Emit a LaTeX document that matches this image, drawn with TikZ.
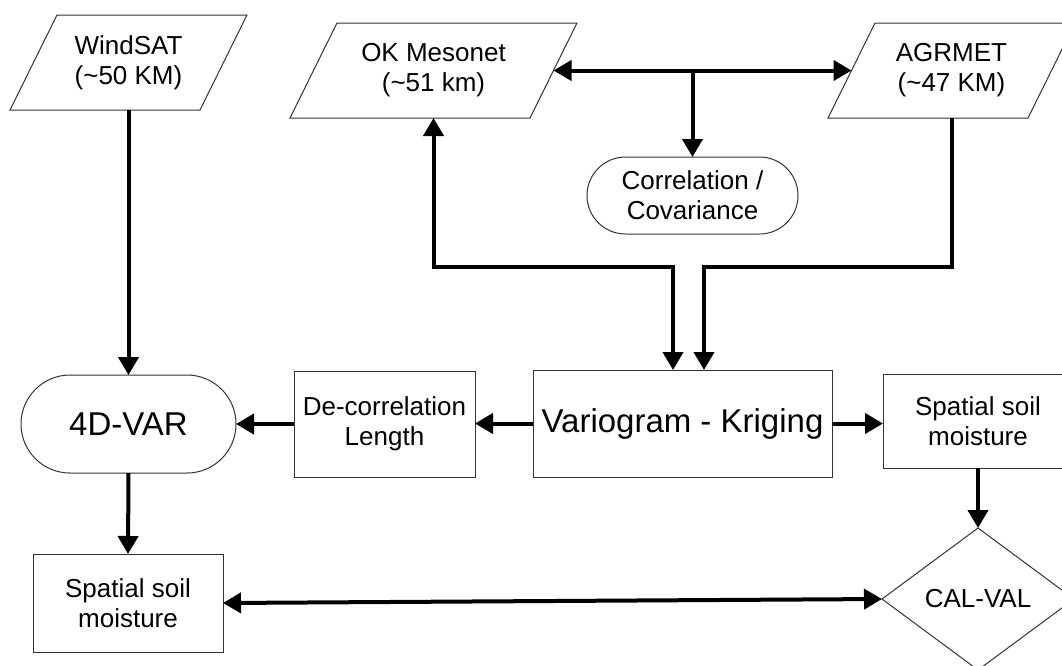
\documentclass[tikz,border=0pt]{standalone}
\usepackage{fontspec}
\setmainfont{Liberation Sans}
\usetikzlibrary{arrows.meta,shapes.geometric,calc}
\colorlet{bordergray}{black!80}
\newcommand\drawpara[2]{\draw[border] ($(#1.north west)+(#2,0)$) -- (#1.north east) -- ($(#1.south east)+(-#2,0)$) -- (#1.south west) -- cycle;}
\begin{document}
\begin{tikzpicture}[x=1pt,y=-1pt,
  border/.style={draw=bordergray, line width=1pt},
  txt/.style={inner sep=0pt, outer sep=0pt, align=center, font=\fontsize{26}{30}\selectfont},
  bigtxt/.style={txt, font=\fontsize{33}{38}\selectfont},
  boxnode/.style={txt, border, rectangle},
  conn/.style={line width=4pt, draw=black},
  tip/.tip={Triangle[length=18pt,width=20pt]},
]
\useasboundingbox (0,0) rectangle (1062,665);
\clip (0,0) rectangle (1062,665);
\fill[white] (0,0) rectangle (1062,665);

% parallelogram inputs
\node[txt, minimum width=237pt, minimum height=95pt] (ws) at (128.5,62.5) {WindSAT\\(\textasciitilde50 KM)};
\drawpara{ws}{47}
\node[txt, minimum width=287pt, minimum height=95pt] (mes) at (433.5,70.5) {OK Mesonet\\(\textasciitilde51 km)};
\drawpara{mes}{47}
\node[txt, minimum width=247pt, minimum height=95pt] (agr) at (951.5,70.5) {AGRMET\\(\textasciitilde47 KM)};
\drawpara{agr}{47}

% other nodes
\node[txt, border, rectangle, rounded corners=38.5pt, minimum width=211pt, minimum height=77pt] (corr) at (692.5,195.5) {Correlation /\\Covariance};
\node[bigtxt, border, rectangle, minimum width=299pt, minimum height=107pt] (vk) at (682.5,423.5) {Variogram - Kriging};
\node[boxnode, minimum width=181pt, minimum height=106pt] (dc) at (384.5,424) {De-correlation\\Length};
\node[bigtxt, border, rectangle, rounded corners=49pt, minimum width=215pt, minimum height=98pt] (var) at (128.5,424) {4D-VAR};
\node[boxnode, minimum width=190pt, minimum height=94pt] (sr) at (978,421) {Spatial soil\\moisture};
\node[boxnode, minimum width=190pt, minimum height=98pt] (sl) at (128,603) {Spatial soil\\moisture};
\node[txt, border, diamond, aspect=1.35, minimum width=192pt, minimum height=142pt] (cv) at (978,599) {CAL-VAL};

% helper coordinates
\coordinate (mesR) at ($(mes.east)+(-23.5,0)$);
\coordinate (agrL) at ($(agr.west)+(23.5,0)$);
\coordinate (br) at (692.5,70.5);
\coordinate (j1) at (433.5,267);
\coordinate (j2) at (673,267);
\coordinate (j3) at (951.5,267);
\coordinate (j4) at (704,267);

% connectors
\draw[conn, -tip] (ws.south) -- (var.north);
\draw[conn, tip-tip] (mesR) -- (agrL);
\draw[conn, -tip] (br) -- (corr.north);
\draw[conn, tip-tip] (mes.south) -- (j1) -- (j2) -- (j2 |- vk.north);
\draw[conn, -tip] (agr.south) -- (j3) -- (j4) -- (j4 |- vk.north);
\draw[conn, -tip] (vk.west) -- (vk.west -| dc.east);
\draw[conn, -tip] (dc.west) -- (dc.west -| var.east);
\draw[conn, -tip] (vk.east) -- (vk.east -| sr.west);
\draw[conn, -tip] (var.south) -- (sl.north);
\draw[conn, -tip] (sr.south) -- (cv.north);
\draw[conn, tip-tip] (sl.east) -- (cv.west);
\end{tikzpicture}
\end{document}
